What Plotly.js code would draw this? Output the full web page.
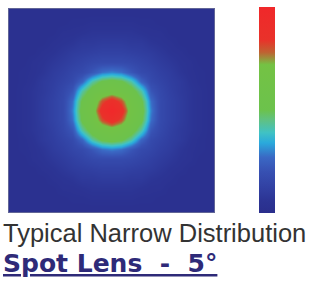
<!DOCTYPE html>
<html>
<head>
<meta charset="utf-8">
<script src="https://cdn.plot.ly/plotly-3.0.1.min.js"></script>
<style>html,body{margin:0;padding:0;background:#fff;}#chart{width:313px;height:287px;}</style>
</head>
<body>
<div id="chart"></div>
<script>
// Relative intensity (rows top to bottom, columns left to right)
var intensity = [
  [.03,.03,.03,.03,.03,.03,.03,.03,.03,.03,.03,.03,.03,.03,.03,.03,.03,.03,.03,.03,.03],
  [.03,.03,.03,.03,.03,.03,.04,.04,.05,.05,.05,.05,.05,.04,.04,.03,.03,.03,.03,.03,.03],
  [.03,.03,.03,.03,.03,.05,.05,.06,.07,.07,.07,.07,.07,.06,.05,.05,.03,.03,.03,.03,.03],
  [.03,.03,.03,.03,.05,.06,.07,.09,.09,.10,.10,.10,.09,.09,.07,.06,.05,.03,.03,.03,.03],
  [.03,.03,.03,.05,.06,.08,.10,.11,.12,.13,.13,.13,.12,.11,.10,.08,.06,.05,.03,.03,.03],
  [.03,.03,.05,.06,.08,.10,.12,.14,.16,.17,.17,.17,.16,.14,.12,.10,.08,.06,.05,.03,.03],
  [.03,.04,.05,.07,.10,.12,.15,.17,.22,.28,.30,.28,.22,.17,.15,.12,.10,.07,.05,.04,.03],
  [.03,.04,.06,.09,.11,.14,.17,.26,.42,.52,.55,.52,.42,.26,.17,.14,.11,.09,.06,.04,.03],
  [.03,.05,.07,.09,.12,.16,.22,.42,.56,.62,.65,.62,.56,.42,.22,.16,.12,.09,.07,.05,.03],
  [.03,.05,.07,.10,.13,.17,.28,.52,.62,.80,.90,.80,.62,.52,.28,.17,.13,.10,.07,.05,.03],
  [.03,.05,.07,.10,.13,.17,.30,.55,.65,.90,1.0,.90,.65,.55,.30,.17,.13,.10,.07,.05,.03],
  [.03,.05,.07,.10,.13,.17,.28,.52,.62,.80,.90,.80,.62,.52,.28,.17,.13,.10,.07,.05,.03],
  [.03,.05,.07,.09,.12,.16,.22,.42,.56,.62,.65,.62,.56,.42,.22,.16,.12,.09,.07,.05,.03],
  [.03,.04,.06,.09,.11,.14,.17,.26,.42,.52,.55,.52,.42,.26,.17,.14,.11,.09,.06,.04,.03],
  [.03,.04,.05,.07,.10,.12,.15,.17,.22,.28,.30,.28,.22,.17,.15,.12,.10,.07,.05,.04,.03],
  [.03,.03,.05,.06,.08,.10,.12,.14,.16,.17,.17,.17,.16,.14,.12,.10,.08,.06,.05,.03,.03],
  [.03,.03,.03,.05,.06,.08,.10,.11,.12,.13,.13,.13,.12,.11,.10,.08,.06,.05,.03,.03,.03],
  [.03,.03,.03,.03,.05,.06,.07,.09,.09,.10,.10,.10,.09,.09,.07,.06,.05,.03,.03,.03,.03],
  [.03,.03,.03,.03,.03,.05,.05,.06,.07,.07,.07,.07,.07,.06,.05,.05,.03,.03,.03,.03,.03],
  [.03,.03,.03,.03,.03,.03,.04,.04,.05,.05,.05,.05,.05,.04,.04,.03,.03,.03,.03,.03,.03],
  [.03,.03,.03,.03,.03,.03,.03,.03,.03,.03,.03,.03,.03,.03,.03,.03,.03,.03,.03,.03,.03]
];
var caption = "Typical Narrow Distribution";
var lensLabel = "Spot Lens  -  5°";

var colorscale = [
  [0.00, '#2a2e8c'],
  [0.06, '#2c3494'],
  [0.12, '#3140a2'],
  [0.20, '#3750b2'],
  [0.27, '#3a68c4'],
  [0.34, '#2aa9dc'],
  [0.39, '#40c2c4'],
  [0.45, '#5fc184'],
  [0.50, '#6cc24c'],
  [0.72, '#74c244'],
  [0.78, '#bf6232'],
  [0.84, '#e9322a'],
  [1.00, '#f0282a']
];

var trace = {
  type: 'heatmap',
  z: intensity,
  zmin: 0, zmax: 1,
  zsmooth: 'best',
  colorscale: colorscale,
  hoverinfo: 'skip',
  colorbar: {
    x: 1.2195, xanchor: 'left', xpad: 0,
    y: 0.5024, yanchor: 'middle', ypad: 0,
    thickness: 16, thicknessmode: 'pixels',
    len: 206, lenmode: 'pixels',
    outlinewidth: 0, ticks: '', showticklabels: false
  }
};

var layout = {
  width: 313, height: 287,
  margin: {l: 9, r: 99, t: 7, b: 75},
  paper_bgcolor: '#ffffff', plot_bgcolor: '#ffffff',
  xaxis: {range: [-0.5, 20.5], showgrid: false, zeroline: false, showticklabels: false, ticks: '',
          showline: true, mirror: true, linecolor: 'rgba(80,84,140,0.9)', linewidth: 1, fixedrange: true},
  yaxis: {range: [20.5, -0.5], showgrid: false, zeroline: false, showticklabels: false, ticks: '',
          showline: true, mirror: true, linecolor: 'rgba(80,84,140,0.9)', linewidth: 1, fixedrange: true},
  annotations: [
    {text: caption, xref: 'paper', yref: 'paper', x: -0.034, xanchor: 'left', y: -0.029, yanchor: 'top',
     showarrow: false, borderpad: 0,
     font: {family: 'Liberation Sans, Arial, sans-serif', size: 25.5, color: '#333333'}},
    {text: lensLabel, xref: 'paper', yref: 'paper', x: -0.034, xanchor: 'left', y: -0.176, yanchor: 'top',
     showarrow: false, borderpad: 0,
     font: {family: 'DejaVu Sans, sans-serif', size: 25, color: '#2e2a78', weight: 'bold', lineposition: 'under'}}
  ],
  showlegend: false
};

Plotly.newPlot('chart', [trace], layout, {displayModeBar: false, staticPlot: true});
</script>
</body>
</html>
